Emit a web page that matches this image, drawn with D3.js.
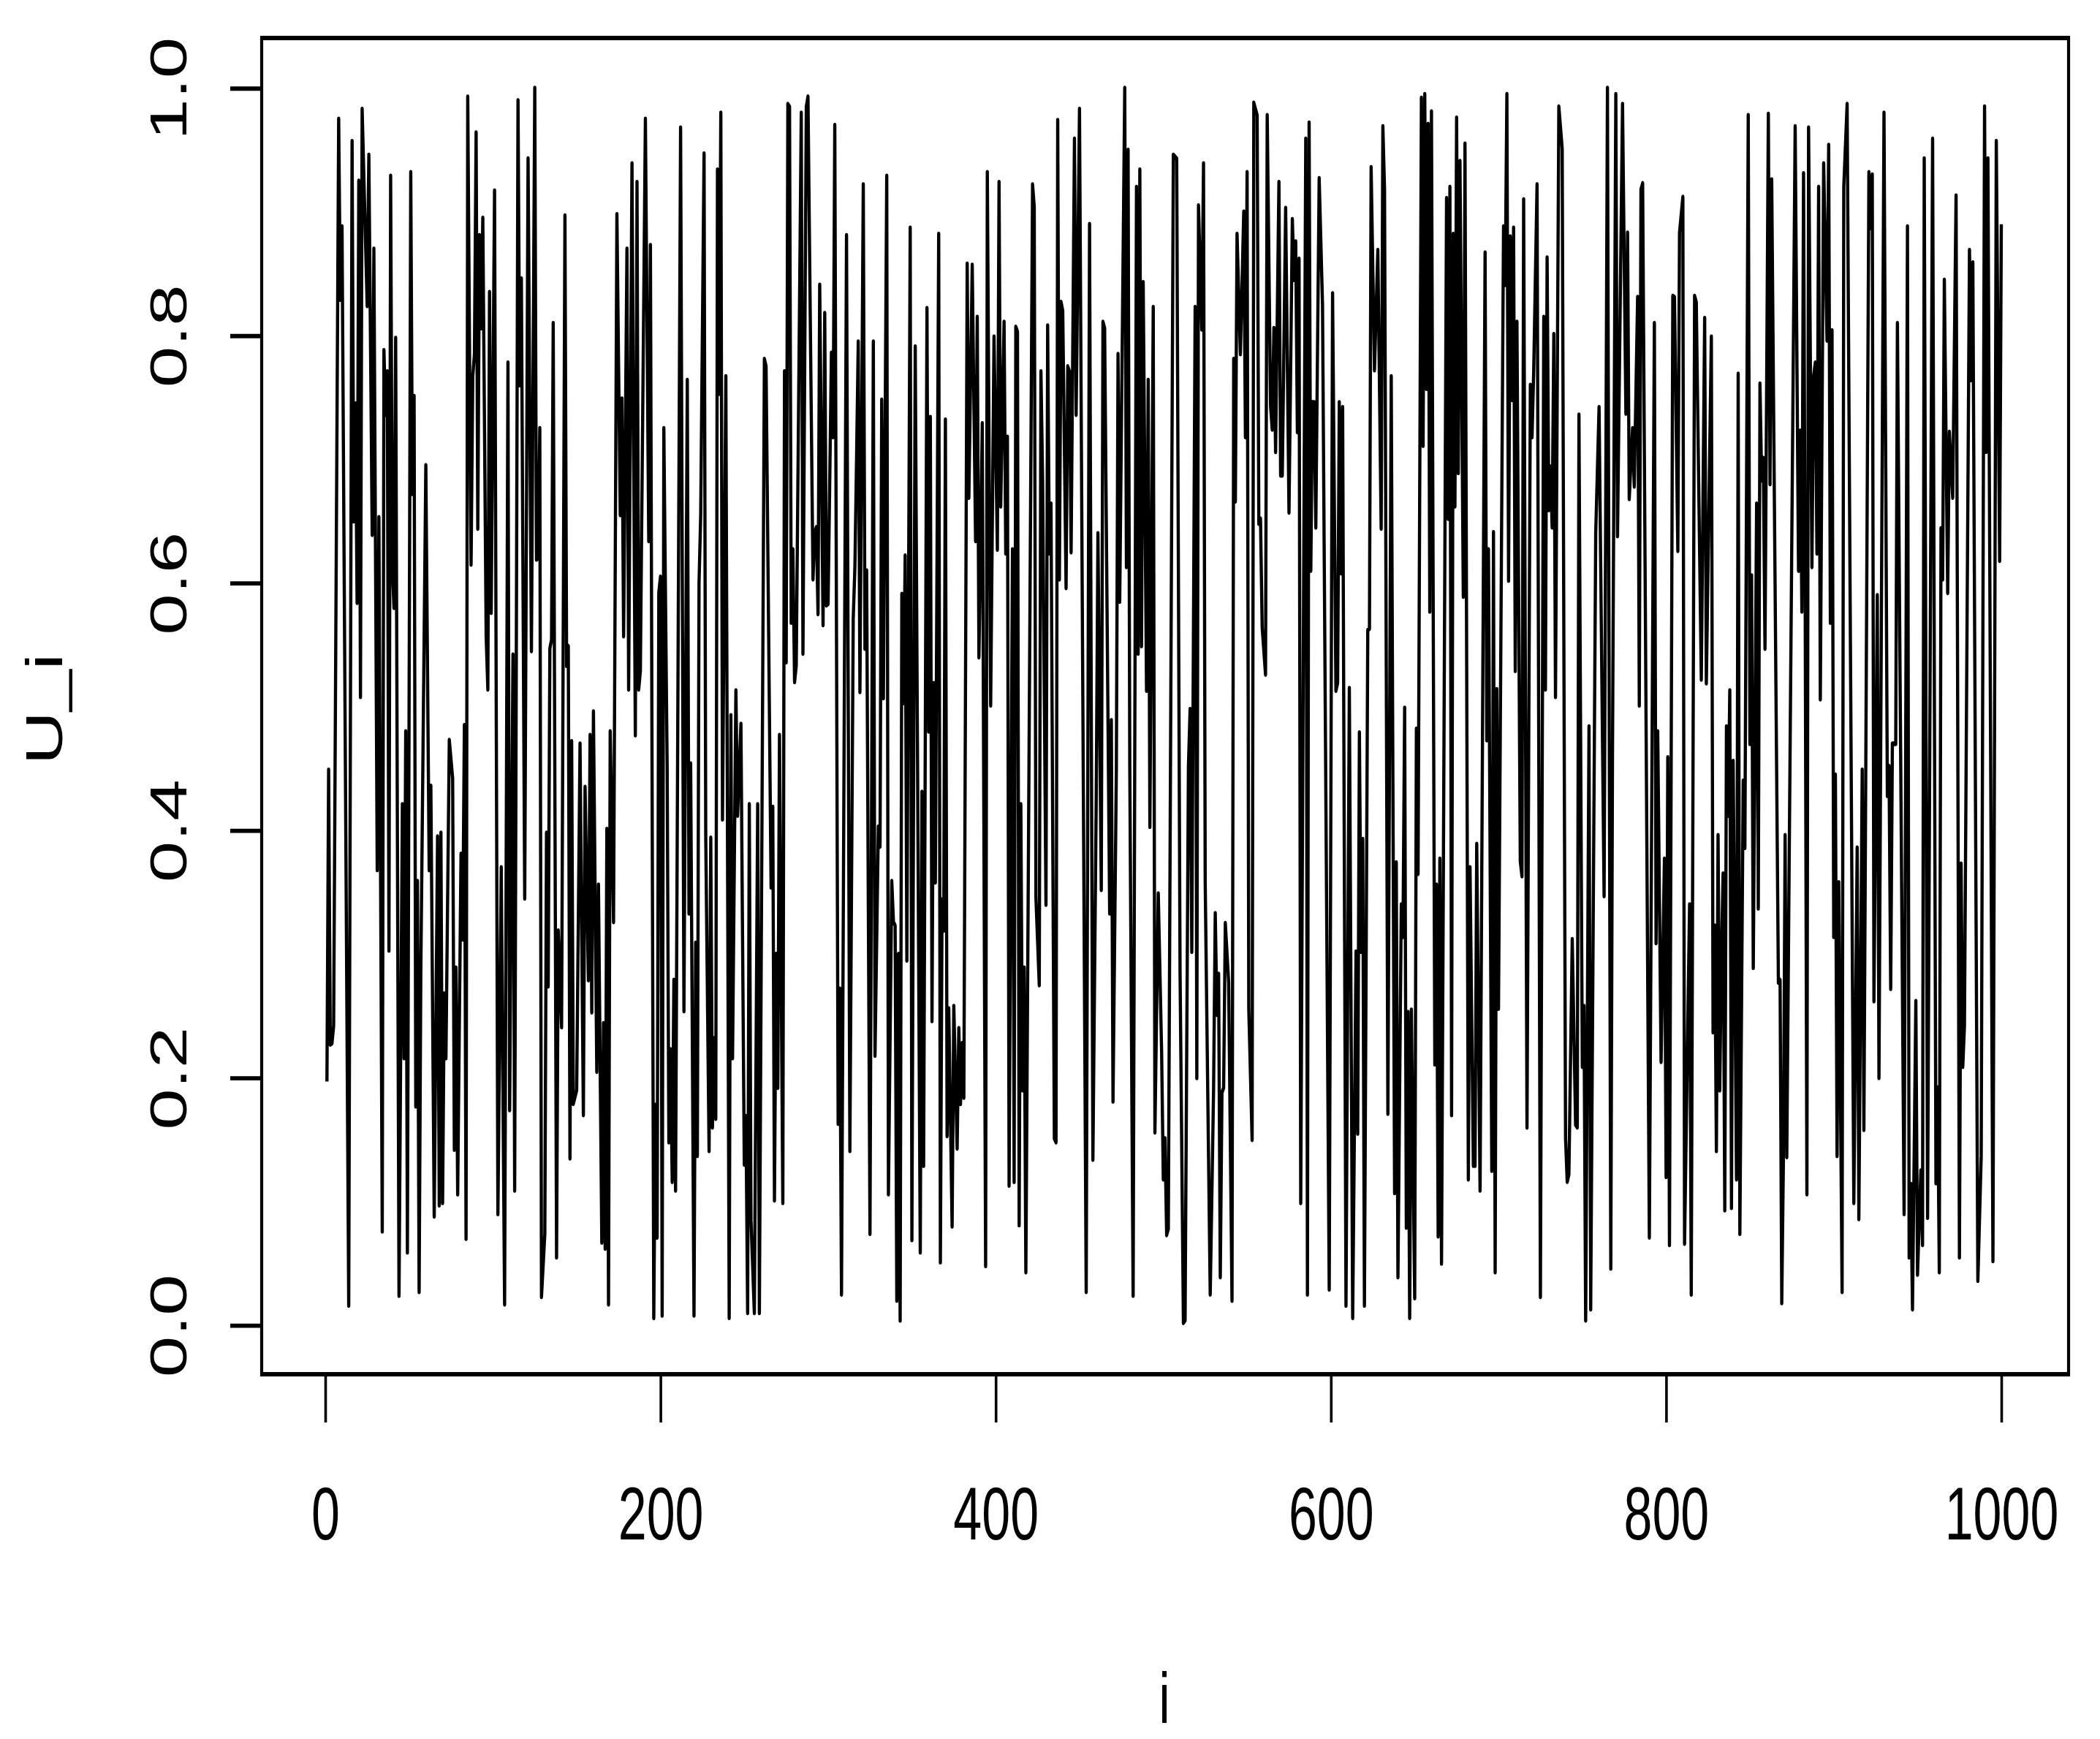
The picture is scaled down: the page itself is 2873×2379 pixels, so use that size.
<!DOCTYPE html>
<html>
<head>
<meta charset="utf-8">
<script src="https://cdn.jsdelivr.net/npm/d3@7/dist/d3.min.js"></script>
<style>
html,body{margin:0;padding:0;background:#fff;}
svg{display:block;}
text{font-family:"Liberation Sans",Arial,sans-serif;fill:#000;}
</style>
</head>
<body>
<div id="chart"></div>
<script>
const xTicks=[0,200,400,600,800,1000];
const yTicks=[0,0.2,0.4,0.6,0.8,1];
const yTickLabels=["0.0","0.2","0.4","0.6","0.8","1.0"];
const xTitle="i";
const yTitle="U_i";
// vertices: index i and value U_i
const index=[1,2,3,4,5,8,9,10,14,16,17,18,19,20,21,22,25,26,28,29,31,32,34,35,36,37,38,39,40,41,42,44,46,47,48,49,51,52,53,54,55,56,57,60,62,63,65,67,68,69,70,71,72,74,76,77,78,79,81,82,83,84,85,87,88,89,90,91,92,93,94,96,97,98,99,101,103,105,107,109,110,112,113,115,116,117,119,121,123,125,126,127,128,129,131,132,133,134,135,136,138,139,141,143,144,145,146,147,148,150,152,154,155,157,158,159,160,162,163,165,166,167,168,169,170,172,174,176,177,178,180,181,183,185,186,187,188,191,193,194,196,197,198,199,200,201,202,204,205,206,207,208,209,212,214,216,217,218,220,221,222,223,224,226,227,229,230,231,232,233,234,235,236,237,239,241,242,243,245,246,248,250,251,252,253,254,256,258,259,262,263,266,267,268,269,270,271,273,274,275,276,277,278,279,280,281,284,285,287,288,291,292,293,294,295,297,298,299,300,302,303,304,306,307,308,311,313,315,316,317,318,319,321,322,323,325,327,328,330,331,332,333,335,336,338,339,340,341,342,343,344,345,346,347,349,350,352,355,356,357,359,360,361,362,363,364,366,367,368,369,370,371,372,374,375,377,378,379,380,381,383,384,386,388,389,390,392,394,395,397,399,401,402,403,405,406,407,408,410,411,412,413,414,415,416,417,418,422,423,424,426,427,428,430,431,432,433,435,436,437,438,439,440,442,443,444,445,447,448,450,454,456,458,460,461,463,464,465,468,469,470,472,473,474,477,478,479,480,482,484,485,486,487,488,490,491,492,494,495,497,499,500,501,502,503,506,508,510,512,513,515,516,517,519,520,521,523,524,525,526,528,530,531,532,533,534,535,536,537,539,541,542,543,544,546,548,549,550,551,553,554,556,557,558,559,561,562,564,565,566,567,569,570,571,573,575,577,578,579,580,581,582,585,586,587,588,589,590,591,593,595,599,601,603,604,605,606,607,609,611,613,615,616,617,618,619,620,622,623,624,626,628,630,631,632,634,636,638,639,640,642,643,644,645,646,647,648,650,651,652,654,655,656,657,658,659,660,662,663,664,665,666,669,670,671,672,673,674,675,676,677,679,680,682,683,685,686,687,689,692,693,694,696,697,698,699,700,703,704,705,706,707,708,709,710,711,713,714,715,717,719,720,721,723,725,727,728,729,730,731,732,733,734,736,738,740,741,742,744,746,747,748,750,751,752,754,755,758,760,763,765,767,768,770,771,774,776,777,778,780,781,783,784,785,786,790,793,794,795,797,799,800,801,802,804,805,807,808,810,811,814,815,817,818,821,823,824,827,828,829,830,831,832,833,834,835,836,837,838,839,840,842,843,844,846,847,849,850,851,852,854,855,856,857,858,859,861,862,863,867,868,869,870,871,872,877,879,880,881,882,883,884,885,887,888,889,890,891,892,894,896,897,898,899,900,901,902,903,905,906,908,912,914,915,917,918,921,922,923,924,926,927,930,932,933,934,935,937,938,942,944,945,946,947,949,950,952,953,954,956,959,961,962,963,964,965,966,967,968,969,971,973,975,976,977,978,981,982,983,986,988,990,991,992,995,997,999,1000];
const values=[.197,.449,.227,.228,.242,.975,.829,.888,.016,.957,.65,.745,.584,.925,.508,.983,.824,.946,.639,.87,.368,.653,.076,.788,.736,.771,.303,.929,.613,.58,.798,.024,.421,.216,.48,.059,.932,.672,.751,.177,.359,.027,.284,.695,.368,.436,.088,.395,.097,.398,.099,.268,.216,.473,.442,.142,.289,.106,.381,.312,.485,.07,.993,.615,.767,.785,.964,.644,.881,.806,.895,.557,.514,.835,.576,.917,.09,.37,.017,.778,.174,.542,.109,.99,.76,.846,.345,.943,.545,1,.619,.62,.725,.023,.074,.398,.274,.547,.554,.81,.055,.319,.241,.897,.533,.549,.135,.472,.179,.19,.47,.17,.435,.279,.477,.253,.496,.205,.356,.067,.244,.062,.401,.017,.48,.326,.898,.655,.749,.557,.87,.514,.939,.477,.924,.514,.529,.975,.634,.873,.006,.178,.071,.592,.605,.008,.725,.449,.148,.223,.116,.279,.109,.968,.254,.764,.333,.454,.008,.309,.137,.6,.655,.947,.396,.141,.394,.16,.232,.167,.934,.753,.98,.409,.767,.006,.493,.216,.513,.412,.486,.13,.169,.01,.421,.085,.01,.421,.01,.781,.775,.354,.419,.101,.3,.192,.477,.099,.771,.536,.987,.985,.568,.627,.52,.533,.98,.543,.985,.993,.603,.641,.645,.575,.841,.566,.818,.582,.583,.786,.718,.97,.163,.272,.025,.881,.141,.571,.613,.701,.795,.512,.922,.547,.61,.074,.795,.218,.403,.387,.748,.507,.929,.106,.359,.326,.323,.02,.3,.004,.591,.503,.622,.295,.887,.069,.791,.059,.431,.129,.822,.48,.734,.246,.519,.358,.882,.051,.344,.319,.732,.153,.256,.08,.258,.143,.24,.179,.228,.184,.858,.669,.857,.634,.815,.54,.729,.048,.932,.501,.799,.627,.924,.662,.811,.624,.718,.113,.627,.116,.807,.803,.081,.421,.19,.289,.043,.922,.904,.346,.275,.771,.683,.34,.808,.624,.664,.151,.148,.974,.603,.827,.82,.596,.775,.771,.625,.959,.736,.983,.027,.89,.134,.428,.64,.352,.811,.806,.333,.489,.181,.45,.785,.585,1,.613,.95,.452,.024,.92,.543,.934,.549,.843,.513,.764,.403,.823,.156,.349,.221,.118,.151,.073,.078,.946,.943,.286,.002,.004,.452,.498,.302,.823,.2,.905,.805,.939,.359,.247,.025,.19,.333,.251,.284,.039,.188,.192,.325,.277,.02,.781,.666,.882,.785,.9,.718,.932,.256,.15,.988,.978,.648,.652,.564,.526,.978,.743,.724,.806,.706,.924,.687,.687,.903,.657,.894,.845,.876,.722,.862,.099,.959,.025,.972,.61,.746,.746,.645,.927,.825,.029,.834,.513,.519,.746,.608,.742,.016,.515,.006,.302,.155,.479,.302,.393,.016,.562,.563,.936,.772,.869,.644,.969,.918,.171,.767,.107,.374,.039,.34,.314,.499,.079,.253,.006,.255,.022,.482,.365,.992,.711,.995,.757,.971,.577,.981,.211,.356,.072,.377,.05,.911,.652,.92,.17,.882,.662,.976,.689,.941,.589,.955,.118,.37,.129,.129,.389,.109,.867,.473,.627,.125,.641,.043,.514,.256,.888,.841,.995,.602,.88,.748,.887,.529,.811,.375,.363,.91,.16,.76,.718,.771,.922,.023,.815,.514,.863,.659,.694,.645,.801,.508,.985,.951,.151,.116,.122,.312,.162,.16,.736,.209,.258,.004,.484,.013,.64,.742,.347,1,.046,.459,.995,.638,.987,.737,.883,.668,.725,.678,.831,.501,.918,.923,.071,.81,.309,.48,.213,.377,.12,.459,.065,.832,.831,.626,.883,.912,.066,.34,.025,.832,.827,.522,.814,.519,.799,.237,.323,.141,.396,.19,.298,.365,.093,.484,.412,.513,.095,.456,.118,.769,.074,.44,.386,.978,.47,.606,.289,.664,.337,.761,.683,.701,.547,.979,.68,.926,.277,.279,.018,.137,.396,.136,.969,.61,.723,.577,.931,.577,.106,.968,.613,.767,.778,.624,.92,.506,.939,.796,.954,.568,.804,.314,.445,.137,.358,.027,.92,.987,.099,.386,.086,.449,.158,.932,.887,.93,.262,.59,.2,.98,.428,.452,.272,.47,.47,.81,.09,.888,.055,.114,.013,.262,.041,.125,.065,.943,.087,.959,.115,.192,.043,.644,.603,.845,.72,.592,.722,.669,.913,.055,.373,.209,.242,.869,.764,.859,.036,.137,.985,.706,.943,.052,.957,.618,.89];

const W=2873,H=2379,S=1.45;
const xs=d3.scaleLinear().domain([0,1000]).range([445,2738]);
const ys=d3.scaleLinear().domain([0,1]).range([1813/S,120.5/S]);
const box={l:358,r:2830,t:52/S,b:1880/S};

const svg=d3.select("#chart").append("svg")
 .attr("width",W).attr("height",H)
 .attr("viewBox",`0 0 ${W} ${H/S}`)
 .attr("preserveAspectRatio","none");
svg.append("rect").attr("width",W).attr("height",H/S).attr("fill","#fff");

const pts=index.map((d,k)=>[d,values[k]]);
svg.append("path").datum(pts)
 .attr("fill","none").attr("stroke","#000").attr("stroke-width",4.4)
 .attr("stroke-linejoin","round").attr("stroke-linecap","butt")
 .attr("d",d3.line().x(d=>xs(d[0])).y(d=>ys(d[1])));

svg.append("rect").attr("x",box.l).attr("y",box.t)
 .attr("width",box.r-box.l).attr("height",box.b-box.t)
 .attr("fill","none").attr("stroke","#000").attr("stroke-width",4.2);

const ax=svg.append("g").attr("transform",`translate(0,${box.b})`)
 .call(d3.axisBottom(xs).tickValues(xTicks).tickSize(66/S).tickFormat(d3.format("d")));
ax.select(".domain").remove();
ax.selectAll("line").attr("stroke","#000").attr("stroke-width",3.6);
ax.selectAll("text").attr("y",(2106-1880)/S).attr("dy",0)
 .attr("font-size",70).attr("text-anchor","middle");

const ay=svg.append("g").attr("transform",`translate(${box.l},0)`)
 .call(d3.axisLeft(ys).tickValues(yTicks).tickSize(43).tickFormat((d,k)=>yTickLabels[k]));
ay.select(".domain").remove();
ay.selectAll("line").attr("stroke","#000").attr("stroke-width",4);
ay.selectAll("text").attr("x",0).attr("y",0).attr("dy",0).attr("dx",0)
 .attr("font-size",70).attr("text-anchor","middle")
 .attr("transform",`translate(${255-box.l},0) rotate(-90)`);

svg.append("text").attr("text-anchor","middle").attr("font-size",68)
 .attr("transform",`translate(1593,${2357/S})`).text(xTitle);
svg.append("text").attr("text-anchor","middle").attr("font-size",70)
 .attr("transform",`translate(85,${970/S}) rotate(-90)`).text(yTitle);
</script>
</body>
</html>
